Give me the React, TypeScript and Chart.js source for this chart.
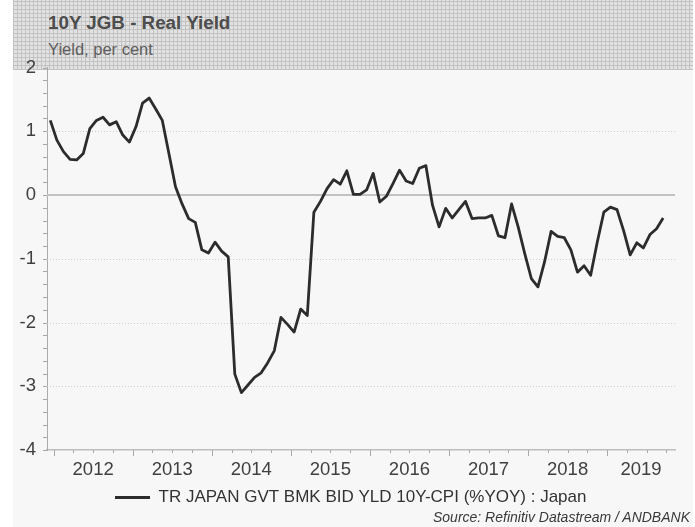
import React, { useEffect, useRef } from "react";
import { Chart, registerables } from "chart.js";

Chart.register(...registerables);

const TITLE = "10Y JGB - Real Yield";
const SUBTITLE = "Yield, per cent";
const SERIES_LABEL = "TR JAPAN GVT BMK BID YLD 10Y-CPI (%YOY) : Japan";
const SOURCE = "Source: Refinitiv Datastream / ANDBANK";

// Monthly observations, Dec 2011 .. Sep 2019 (x = months since 1 Jan 2012, mid-month)
const realYield = [
  1.17, 0.86, 0.68, 0.56, 0.55, 0.65, 1.04, 1.17, 1.22, 1.10,
  1.15, 0.94, 0.83, 1.07, 1.44, 1.52, 1.35, 1.17, 0.65, 0.13,
  -0.14, -0.37, -0.43, -0.86, -0.91, -0.74, -0.88, -0.97, -2.81, -3.10,
  -2.98, -2.86, -2.79, -2.63, -2.44, -1.92, -2.03, -2.15, -1.79, -1.89,
  -0.27, -0.10, 0.10, 0.24, 0.17, 0.38, 0.01, 0.01, 0.08, 0.34,
  -0.11, -0.02, 0.18, 0.39, 0.22, 0.18, 0.42, 0.46, -0.16, -0.50,
  -0.21, -0.36, -0.23, -0.10, -0.37, -0.36, -0.36, -0.32, -0.64, -0.67,
  -0.14, -0.50, -0.92, -1.31, -1.44, -1.05, -0.57, -0.65, -0.67, -0.86,
  -1.21, -1.11, -1.26, -0.74, -0.27, -0.19, -0.23, -0.56, -0.94, -0.75,
  -0.83, -0.62, -0.53, -0.36,
];
const FIRST_MONTH_OFFSET = -0.5; // Dec 2011, mid-month

const yearLabels = ["2012", "2013", "2014", "2015", "2016", "2017", "2018", "2019"];
const yTickValues = [-4, -3, -2, -1, 0, 1, 2];

const X_MIN = -1; // 1 Dec 2011
const X_MAX = 94.3; // axis end, Nov 2019
const Y_MIN = -4;
const Y_MAX = 2;

const FONT = '"Liberation Sans", Arial, Helvetica, sans-serif';

const decorPlugin = {
  id: "decor",
  afterLayout(chart: any) {
    // centre the legend as in the reference
    if (chart.legend) chart.legend.left = 26.5;
  },
  beforeDatasetsDraw(chart: any) {
    const { ctx, chartArea, scales } = chart;
    const x = scales.x;
    const y = scales.y;
    ctx.save();
    ctx.lineWidth = 1;
    ctx.strokeStyle = "#cdcdcd";
    ctx.setLineDash([1, 2]);
    for (const v of yTickValues) {
      if (v === 0 || v === Y_MIN || v === Y_MAX) continue;
      const py = Math.round(y.getPixelForValue(v)) + 0.5;
      ctx.beginPath();
      ctx.moveTo(chartArea.left, py);
      ctx.lineTo(chartArea.right, py);
      ctx.stroke();
    }
    ctx.setLineDash([]);
    ctx.strokeStyle = "#c2c2c2";
    ctx.lineWidth = 2;
    const pz = Math.round(y.getPixelForValue(0));
    ctx.beginPath();
    ctx.moveTo(chartArea.left, pz);
    ctx.lineTo(chartArea.right, pz);
    ctx.stroke();
    ctx.strokeStyle = "#a8a8a8";
    ctx.lineWidth = 1;
    for (let k = 0; k <= (Y_MAX - Y_MIN) * 5; k++) {
      const v = Y_MIN + k * 0.2;
      const py = Math.round(y.getPixelForValue(v)) + 0.5;
      ctx.beginPath();
      ctx.moveTo(chartArea.left - 4, py);
      ctx.lineTo(chartArea.left, py);
      ctx.stroke();
    }
    for (let m = 0; m <= X_MAX; m += 3) {
      const px = Math.round(x.getPixelForValue(m)) + 0.5;
      const len = m % 12 === 0 ? 6 : 3;
      ctx.beginPath();
      ctx.moveTo(px, chartArea.bottom);
      ctx.lineTo(px, chartArea.bottom + len);
      ctx.stroke();
    }
    ctx.restore();
  },
};

export default function App() {
  const canvasRef = useRef<HTMLCanvasElement | null>(null);

  useEffect(() => {
    const canvas = canvasRef.current;
    if (!canvas) return;
    const data = realYield.map((v, i) => ({ x: i + FIRST_MONTH_OFFSET, y: v }));
    const labelPositions = yearLabels.map((_, k) => {
      const start = k * 12;
      const end = Math.min(start + 12, X_MAX);
      return (start + end) / 2;
    });

    const chart = new Chart(canvas, {
      type: "line",
      data: {
        datasets: [
          {
            label: SERIES_LABEL,
            data,
            borderColor: "#2c2c2c",
            backgroundColor: "#2c2c2c",
            borderWidth: 2.8,
            pointRadius: 0,
            tension: 0,
            borderJoinStyle: "round",
            fill: false,
          },
        ],
      },
      options: {
        responsive: false,
        animation: false,
        devicePixelRatio: 1,
        layout: { padding: { left: 0, right: 20, top: 67.5, bottom: 11 } },
        plugins: {
          title: { display: false },
          tooltip: { enabled: false },
          legend: {
            display: true,
            position: "bottom",
            labels: {
              boxWidth: 35,
              boxHeight: 3,
              padding: 10,
              color: "#333333",
              font: { family: FONT, size: 17 },
              generateLabels: (c: any) => {
                const items = (Chart.defaults as any).plugins.legend.labels.generateLabels(c);
                items.forEach((it: any) => {
                  it.lineWidth = 0;
                  it.fillStyle = "#2c2c2c";
                  it.strokeStyle = "#2c2c2c";
                });
                return items;
              },
            },
          },
        },
        scales: {
          x: {
            type: "linear",
            min: X_MIN,
            max: X_MAX,
            afterFit: (s: any) => {
              s.height = 29;
            },
            afterBuildTicks: (s: any) => {
              s.ticks = labelPositions.map((v) => ({ value: v }));
            },
            grid: { display: false, drawTicks: false },
            border: { display: true, color: "#bdbdbd", width: 1.5 },
            ticks: {
              padding: 9,
              autoSkip: false,
              maxRotation: 0,
              minRotation: 0,
              color: "#404040",
              font: { family: FONT, size: 18.5 },
              callback: (_v: any, i: number) => yearLabels[i],
            },
          },
          y: {
            type: "linear",
            min: Y_MIN,
            max: Y_MAX,
            afterFit: (s: any) => {
              s.width = 47;
            },
            afterBuildTicks: (s: any) => {
              s.ticks = yTickValues.map((v) => ({ value: v }));
            },
            grid: { display: false, drawTicks: false },
            border: { display: true, color: "#ababab", width: 1 },
            ticks: {
              padding: 11,
              color: "#404040",
              font: { family: FONT, size: 18.5 },
              callback: (v: any) => String(v),
            },
          },
        },
      },
      plugins: [decorPlugin],
    } as any);

    return () => chart.destroy();
  }, []);

  const texture =
    "repeating-linear-gradient(0deg, #c2c2c2 0px, #c2c2c2 1px, transparent 1px, transparent 4px), " +
    "repeating-linear-gradient(90deg, #c2c2c2 0px, #c2c2c2 1px, #e2e2e2 1px, #e2e2e2 4px)";

  return (
    <div
      style={{
        position: "fixed",
        left: 0,
        top: 0,
        width: 695,
        height: 527,
        overflow: "hidden",
        background: "#ffffff",
      }}
    >
      <div
        style={{
          position: "absolute",
          left: 13,
          top: 0,
          width: 680,
          height: 527,
          background: "#f7f7f7",
        }}
      />
      <div
        style={{
          position: "absolute",
          left: 13,
          top: 0,
          width: 680,
          height: 70,
          backgroundImage: texture,
        }}
      />
      <div
        style={{
          position: "absolute",
          left: 48,
          top: 14.2,
          font: `bold 18.8px ${FONT}`,
          lineHeight: "18.8px",
          color: "#4d4d4d",
          whiteSpace: "nowrap",
        }}
      >
        {TITLE}
      </div>
      <div
        style={{
          position: "absolute",
          left: 48,
          top: 40.5,
          font: `16.5px ${FONT}`,
          lineHeight: "16.5px",
          color: "#5e5e5e",
          whiteSpace: "nowrap",
        }}
      >
        {SUBTITLE}
      </div>
      <canvas
        ref={canvasRef}
        width={695}
        height={527}
        style={{ position: "absolute", left: 0, top: 0, width: 695, height: 527 }}
      />
      <div
        style={{
          position: "absolute",
          left: 0,
          top: 510.2,
          width: 690,
          textAlign: "right",
          font: `italic 14px ${FONT}`,
          lineHeight: "14px",
          color: "#3a3a3a",
          whiteSpace: "nowrap",
        }}
      >
        {SOURCE}
      </div>
    </div>
  );
}
